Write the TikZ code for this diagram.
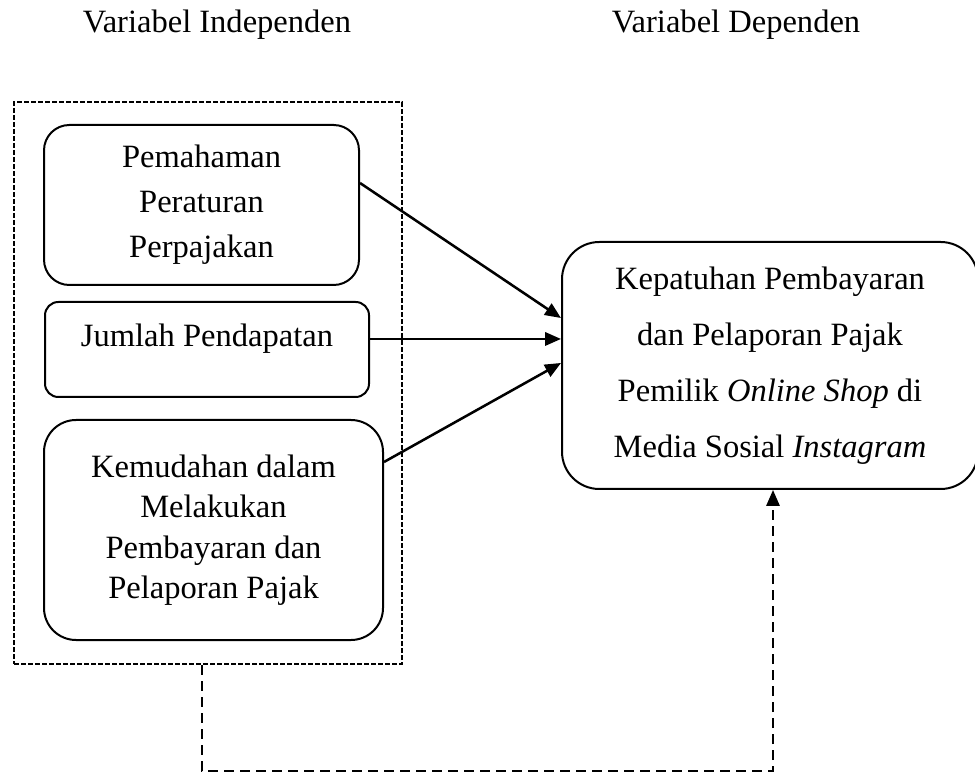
\documentclass[tikz,border=0pt]{standalone}
\usepackage{fontspec}
\setmainfont{Liberation Serif}
\usetikzlibrary{arrows.meta,calc}
\begin{document}
\begin{tikzpicture}[x=0.75pt,y=-0.75pt,
  every node/.style={font=\fontsize{24.4}{30}\selectfont},
  box/.style={draw,line width=1.5pt,align=center,inner sep=0pt},
  grpbox/.style={draw,line width=1.5pt,dash pattern=on 3.75pt off 1.5pt,inner sep=0pt},
  arr/.style={line width=1.9pt,-{Triangle[length=12pt,width=10pt]}},
  darr/.style={line width=1.5pt,dash pattern=on 7.5pt off 4.5pt,-{Triangle[length=12pt,width=10pt]}},
  title/.style={anchor=base}]
\useasboundingbox (0,0) rectangle (975,773);
% titles
\node[title] (ti) at (217,33) {Variabel Independen};
\node[title] (td) at (736,33) {Variabel Dependen};
% group box
\node[grpbox,minimum width=388*0.75pt,minimum height=562*0.75pt] (grp) at (208,383) {};
% independent variables
\node[box,rounded corners=19pt,minimum width=315*0.75pt,minimum height=160*0.75pt,
  font=\fontsize{24.4}{33.75}\selectfont] (b1) at (201.5,205)
  {Pemahaman\\Peraturan\\Perpajakan};
\node[box,rounded corners=10pt,minimum width=324*0.75pt,minimum height=95*0.75pt] (b2) at (207,349.5) {};
\node (t2) at (207,339) {Jumlah Pendapatan};
\node[box,rounded corners=24pt,minimum width=339*0.75pt,minimum height=220*0.75pt,
  font=\fontsize{24.4}{30.4}\selectfont] (b3) at (213.5,530)
  {Kemudahan dalam\\Melakukan\\Pembayaran dan\\Pelaporan Pajak};
% dependent variable
\node[box,rounded corners=28pt,minimum width=416*0.75pt,minimum height=247*0.75pt,
  font=\fontsize{24.4}{42}\selectfont] (rb) at (770,365.5)
  {Kepatuhan Pembayaran\\dan Pelaporan Pajak\\Pemilik \textit{Online Shop} di\\Media Sosial \textit{Instagram}};
% arrows
\draw[arr] ([yshift=16.5pt]b1.east) -- ([yshift=35.6pt]rb.west);
\draw[arr] ([yshift=7.9pt]b2.east) -- ([yshift=19.9pt]rb.west);
\draw[arr] ([yshift=51pt]b3.east) -- ([yshift=1.9pt]rb.west);
% dashed simultaneous connector
\coordinate (dl) at (500,771);
\draw[darr] ([xshift=-4.5pt]grp.south) |- (dl) -| ([xshift=2.25pt]rb.south);
\end{tikzpicture}
\end{document}
